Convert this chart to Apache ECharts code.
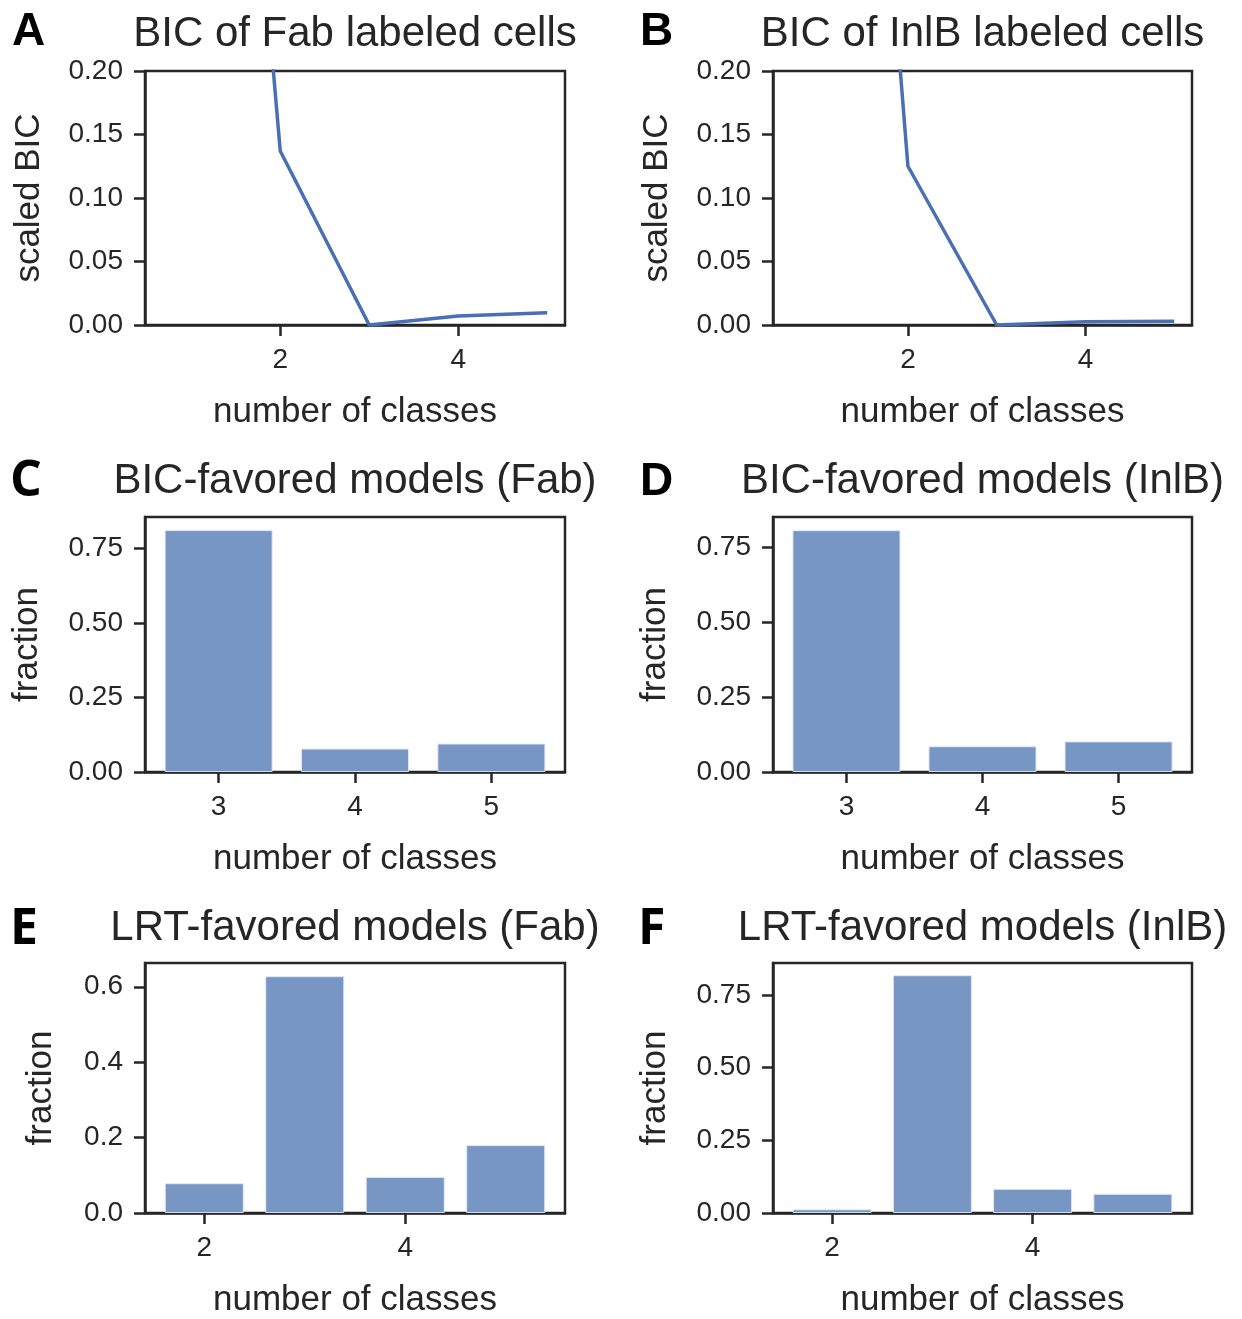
<!DOCTYPE html>
<html>
<head>
<meta charset="utf-8">
<script src="https://cdn.jsdelivr.net/npm/echarts@6.0.0/dist/echarts.min.js"></script>
<style>
  html, body { margin: 0; padding: 0; background: #fff; }
  #main { width: 1242px; height: 1319px; }
</style>
</head>
<body>
<div id="main"></div>
<script>
// --- data ---
const bicClasses = [1, 2, 3, 4, 5];
const bicFab = [0.95, 0.137, 0.0, 0.0071, 0.0097];
const bicInlb = [1.0, 0.125, 0.0, 0.0026, 0.003];
const bicTicksX = [2, 4];
const bicTicksY = [0, 0.05, 0.10, 0.15, 0.20];

const favClasses = [3, 4, 5];
const bicFavFab = [0.811, 0.0785, 0.0953];
const bicFavInlb = [0.806, 0.0857, 0.102];
const favTicksX = [3, 4, 5];
const fracTicks = [0, 0.25, 0.5, 0.75];

const lrtClasses = [2, 3, 4, 5];
const lrtFab = [0.079, 0.628, 0.0957, 0.18];
const lrtInlb = [0.0125, 0.818, 0.083, 0.066];
const lrtTicksX = [2, 4];
const lrtFabTicksY = [0, 0.2, 0.4, 0.6];

const INK = '#262626';
const LINE = '#4a6fb3';
const BAR = '#7896c4';
const FONT = '"Liberation Sans", Arial, sans-serif';

const zip = (xs, ys) => xs.map((x, i) => [x, ys[i]]);

const panels = [
  { letter: 'A', title: 'BIC of Fab labeled cells', left: 145, top: 71, w: 420, h: 254,
    xMin: 0.48, xMax: 5.2, xTicks: bicTicksX, yMax: 0.2, yTicks: bicTicksY, dec: 2,
    yName: 'scaled BIC', yGap: 98, kind: 'line', data: zip(bicClasses, bicFab) },
  { letter: 'B', title: 'BIC of InlB labeled cells', left: 773, top: 71, w: 419, h: 254,
    xMin: 0.48, xMax: 5.2, xTicks: bicTicksX, yMax: 0.2, yTicks: bicTicksY, dec: 2,
    yName: 'scaled BIC', yGap: 98, kind: 'line', data: zip(bicClasses, bicInlb) },
  { letter: 'C', title: 'BIC-favored models (Fab)', left: 145, top: 517, w: 420, h: 255,
    xMin: 2.46, xMax: 5.54, xTicks: favTicksX, yMax: 0.855, yTicks: fracTicks, dec: 2,
    yName: 'fraction', yGap: 100, kind: 'bar', barW: 108, data: zip(favClasses, bicFavFab) },
  { letter: 'D', title: 'BIC-favored models (InlB)', left: 773, top: 517, w: 419, h: 255,
    xMin: 2.46, xMax: 5.54, xTicks: favTicksX, yMax: 0.85, yTicks: fracTicks, dec: 2,
    yName: 'fraction', yGap: 100, kind: 'bar', barW: 108, data: zip(favClasses, bicFavInlb) },
  { letter: 'E', title: 'LRT-favored models (Fab)', left: 145, top: 963, w: 420, h: 255,
    xMin: 1.41, xMax: 5.59, xTicks: lrtTicksX, yMax: 0.663, yTicks: lrtFabTicksY, dec: 1,
    yName: 'fraction', yGap: 86, kind: 'bar', barW: 79, data: zip(lrtClasses, lrtFab) },
  { letter: 'F', title: 'LRT-favored models (InlB)', left: 773, top: 963, w: 419, h: 255,
    xMin: 1.41, xMax: 5.59, xTicks: lrtTicksX, yMax: 0.86, yTicks: fracTicks, dec: 2,
    yName: 'fraction', yGap: 100, kind: 'bar', barW: 79, data: zip(lrtClasses, lrtInlb) }
];

const grid = [], xAxis = [], yAxis = [], series = [], titles = [];

panels.forEach((p, i) => {
  grid.push({
    left: p.left, top: p.top, width: p.w, height: p.h,
    show: true, borderColor: INK, borderWidth: 2.5, backgroundColor: 'transparent'
  });
  xAxis.push({
    type: 'value', gridIndex: i, min: p.xMin, max: p.xMax,
    name: 'number of classes', nameLocation: 'middle', nameGap: 70,
    nameTextStyle: { fontFamily: FONT, fontSize: 35, color: INK },
    axisLine: { show: true, lineStyle: { color: INK, width: 2.5 } },
    axisTick: { show: true, length: 11, lineStyle: { color: INK, width: 2.5 }, customValues: p.xTicks },
    axisLabel: { fontFamily: FONT, fontSize: 28, color: INK, margin: 21, customValues: p.xTicks },
    splitLine: { show: false }
  });
  yAxis.push({
    type: 'value', gridIndex: i, min: 0, max: p.yMax,
    name: p.yName, nameLocation: 'middle', nameGap: p.yGap,
    nameTextStyle: { fontFamily: FONT, fontSize: 35, color: INK },
    axisLine: { show: true, lineStyle: { color: INK, width: 2.5 } },
    axisTick: { show: true, length: 11, lineStyle: { color: INK, width: 2.5 }, customValues: p.yTicks },
    axisLabel: {
      fontFamily: FONT, fontSize: 28, color: INK, margin: 22, customValues: p.yTicks,
      formatter: v => v.toFixed(p.dec)
    },
    splitLine: { show: false }
  });
  if (p.kind === 'line') {
    series.push({
      type: 'line', xAxisIndex: i, yAxisIndex: i, data: p.data,
      showSymbol: false, clip: true,
      lineStyle: { color: LINE, width: 3.5 }, itemStyle: { color: LINE }
    });
  } else {
    series.push({
      type: 'bar', xAxisIndex: i, yAxisIndex: i, data: p.data, barWidth: p.barW,
      itemStyle: { color: BAR, borderColor: 'rgba(225,233,246,0.9)', borderWidth: 1 }
    });
  }
  const rowMid = [34, 481, 928][Math.floor(i / 2)];
  titles.push({
    type: 'text', x: 0, y: 0, silent: true,
    style: {
      text: p.title, x: p.left + p.w / 2, y: rowMid, align: 'center', verticalAlign: 'middle',
      font: '42px ' + FONT, fill: INK
    }
  });
});

const letters = [
  { t: 'A', x: 12, y: 32, font: 'bold 46px "Liberation Sans", Arial, sans-serif' },
  { t: 'B', x: 640, y: 32, font: 'bold 46px "Liberation Sans", Arial, sans-serif' },
  { t: 'C', x: 10, y: 482, font: 'bold 50px "Open Sans", sans-serif' },
  { t: 'D', x: 640, y: 482, font: 'bold 46px "Liberation Sans", Arial, sans-serif' },
  { t: 'E', x: 10, y: 930, font: 'bold 50px "Open Sans", sans-serif' },
  { t: 'F', x: 638, y: 930, font: 'bold 50px "Open Sans", sans-serif' }
];

const chart = echarts.init(document.getElementById('main'), null, { renderer: 'canvas' });

const gfx = titles.concat(letters.map(l => ({
  type: 'text', x: 0, y: 0, silent: true,
  style: { text: l.t, x: l.x, y: l.y, align: 'left', verticalAlign: 'middle', font: l.font, fill: '#000' }
})));

chart.setOption({
  animation: false,
  backgroundColor: '#fff',
  grid, xAxis, yAxis, series,
  graphic: gfx
});
</script>
</body>
</html>
